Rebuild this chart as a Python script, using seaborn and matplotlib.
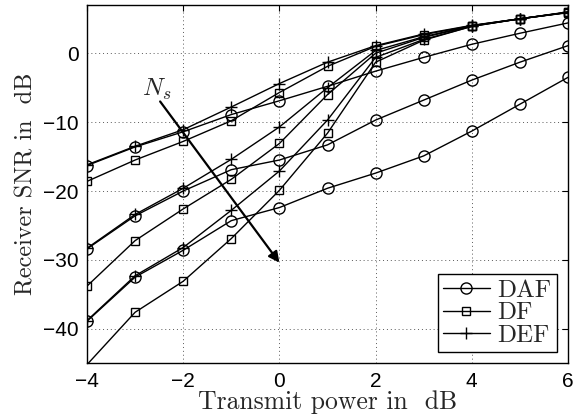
import numpy as np
import pandas as pd
import matplotlib
matplotlib.use("Agg")
import matplotlib.pyplot as plt
from matplotlib.lines import Line2D
import seaborn as sns

# Transmit power (dB)
tx_power = [-4, -3, -2, -1, 0, 1, 2, 3, 4, 5, 6]

# Receiver SNR (dB) for three values of N_s (increasing from group A to C)
daf_a = [-16.3, -13.6, -11.4, -8.9, -6.9, -4.8, -2.6, -0.6, 1.3, 2.9, 4.4]
df_a = [-18.6, -15.5, -12.8, -9.8, -5.7, -1.9, 1.0, 2.7, 4.0, 5.0, 5.95]
def_a = [-16.2, -13.5, -11.1, -7.8, -4.4, -1.3, 1.1, 2.8, 4.05, 5.0, 6.0]

daf_b = [-28.4, -23.6, -20.0, -16.9, -15.5, -13.3, -9.7, -6.8, -3.9, -1.3, 1.1]
df_b = [-33.8, -27.2, -22.6, -18.3, -13.1, -6.0, 0.0, 2.3, 3.95, 5.0, 5.95]
def_b = [-28.3, -23.4, -19.6, -15.4, -10.7, -5.0, 0.4, 2.4, 4.0, 5.0, 5.95]

daf_c = [-38.9, -32.5, -28.6, -24.3, -22.4, -19.6, -17.4, -14.9, -11.3, -7.4, -3.5]
df_c = [-45.2, -37.6, -33.1, -26.9, -19.9, -11.6, -1.3, 1.9, 3.9, 5.0, 5.9]
def_c = [-38.8, -32.3, -28.2, -22.8, -17.1, -9.7, -0.6, 2.0, 3.9, 5.0, 5.9]

schemes = ["DAF", "DF", "DEF"]
series = {
    "DAF": [daf_a, daf_b, daf_c],
    "DF": [df_a, df_b, df_c],
    "DEF": [def_a, def_b, def_c],
}

x_ticks = [-4, -2, 0, 2, 4, 6]
y_ticks = [-40, -30, -20, -10, 0]
x_range = (-4, 6)
y_range = (-45, 7)

sns.set_style("white")
plt.rcParams["font.family"] = ["Liberation Sans", "DejaVu Sans"]
plt.rcParams["mathtext.fontset"] = "cm"

marker_style = {
    "DAF": dict(marker="o", markersize=8, markeredgewidth=1.0),
    "DF": dict(marker="s", markersize=6, markeredgewidth=1.0),
    "DEF": dict(marker="+", markersize=9, markeredgewidth=1.0),
}

fig = plt.figure(figsize=(5.84, 4.18), dpi=100)
ax = fig.add_axes([0.149, 0.131, 0.8236, 0.857])

for name in schemes:
    for values in series[name]:
        df = pd.DataFrame({"x": tx_power, "y": values})
        # markers are only drawn for points inside the visible y range
        visible = [i for i, v in enumerate(values) if v >= y_range[0]]
        sns.lineplot(data=df, x="x", y="y", ax=ax, color="k", linewidth=1.0,
                     markerfacecolor="none", markeredgecolor="k",
                     markevery=visible, legend=False, **marker_style[name])

ax.set_xlim(*x_range)
ax.set_ylim(*y_range)
ax.set_xticks(x_ticks)
ax.set_yticks(y_ticks)
ax.tick_params(direction="in", length=4, width=0.8, top=True, right=True,
               labelsize=15, pad=6, colors="k")
for side in ax.spines.values():
    side.set_color("k")
    side.set_linewidth(1.0)
ax.grid(True, color="0.35", linestyle=(0, (1, 3)), linewidth=0.7)

ax.set_xlabel("Transmit power in  dB", family="cmr10", size=18.5, labelpad=0)
ax.set_ylabel("Receiver SNR in  dB", family="cmr10", size=17.5, labelpad=4)

# Direction of increasing N_s
ax.annotate("", xy=(0.0, -30.4), xytext=(-2.48, -7.0),
            arrowprops=dict(arrowstyle="-|>", color="k", lw=1.6,
                            mutation_scale=16, shrinkA=0, shrinkB=0))
ax.text(-2.55, -5.2, r"$N_s$", fontsize=18, ha="center", va="center")

handles = [Line2D([], [], color="k", linewidth=1.0, markerfacecolor="none",
                  markeredgecolor="k", **marker_style[name]) for name in schemes]
leg = ax.legend(handles, schemes, loc="lower right", frameon=True,
                fancybox=False, framealpha=1, edgecolor="k",
                prop=dict(family="cmr10", size=18), handlelength=1.9,
                borderaxespad=0.45, borderpad=0.2, labelspacing=0.0,
                handletextpad=0.3)
leg.get_frame().set_linewidth(1.0)

fig.savefig("out.png", dpi=100)
